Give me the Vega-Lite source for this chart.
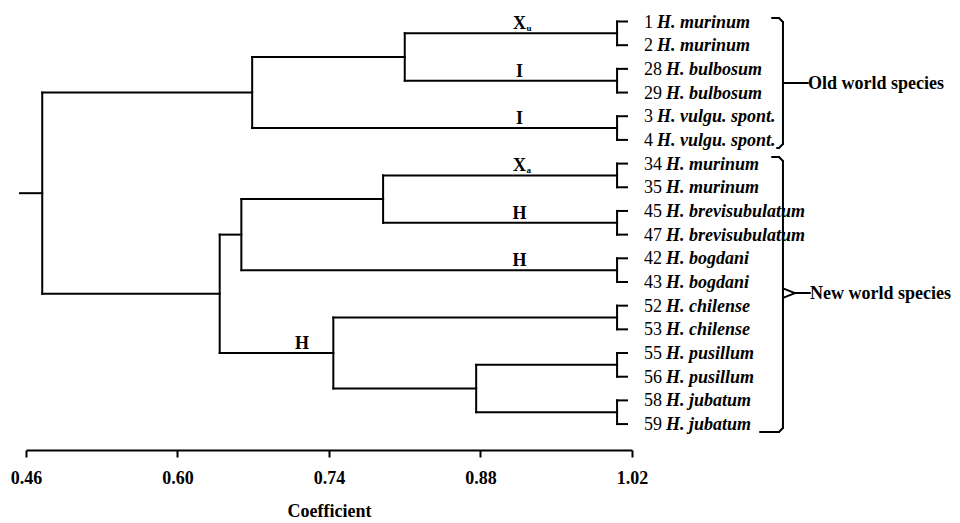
{
  "$schema": "https://vega.github.io/schema/vega-lite/v6.json",
  "width": 606,
  "height": 450,
  "autosize": {"type": "none"},
  "padding": {"left": 26, "top": 0, "right": 328, "bottom": 73},
  "background": "white",
  "config": {
    "view": {"stroke": null},
    "font": "Liberation Serif",
    "axisX": {
      "grid": false,
      "domainColor": "black", "domainWidth": 2,
      "tickColor": "black", "tickWidth": 2, "tickSize": 7,
      "labelFont": "Liberation Serif", "labelFontSize": 18, "labelFontWeight": "bold",
      "labelColor": "black", "labelPadding": 12, "labelFlush": false, "labelOverlap": false,
      "titleFont": "Liberation Serif", "titleFontSize": 18, "titleFontWeight": "bold",
      "titleColor": "black", "titlePadding": 15
    }
  },
  "datasets": {
    "segs": [
      {"x": 0.4545, "x2": 0.475, "y": 8.25, "y2": 8.25},
      {"x": 0.475, "x2": 0.475, "y": 4, "y2": 12.5},
      {"x": 0.475, "x2": 0.669, "y": 4, "y2": 4},
      {"x": 0.475, "x2": 0.639, "y": 12.5, "y2": 12.5},
      {"x": 0.669, "x2": 0.669, "y": 2.5, "y2": 5.5},
      {"x": 0.669, "x2": 0.81, "y": 2.5, "y2": 2.5},
      {"x": 0.669, "x2": 1.0062, "y": 5.5, "y2": 5.5},
      {"x": 0.81, "x2": 0.81, "y": 1.5, "y2": 3.5},
      {"x": 0.81, "x2": 1.0062, "y": 1.5, "y2": 1.5},
      {"x": 0.81, "x2": 1.0062, "y": 3.5, "y2": 3.5},
      {"x": 0.639, "x2": 0.639, "y": 10, "y2": 15},
      {"x": 0.639, "x2": 0.659, "y": 10, "y2": 10},
      {"x": 0.639, "x2": 0.744, "y": 15, "y2": 15},
      {"x": 0.659, "x2": 0.659, "y": 8.5, "y2": 11.5},
      {"x": 0.659, "x2": 0.79, "y": 8.5, "y2": 8.5},
      {"x": 0.659, "x2": 1.0062, "y": 11.5, "y2": 11.5},
      {"x": 0.79, "x2": 0.79, "y": 7.5, "y2": 9.5},
      {"x": 0.79, "x2": 1.0062, "y": 7.5, "y2": 7.5},
      {"x": 0.79, "x2": 1.0062, "y": 9.5, "y2": 9.5},
      {"x": 0.744, "x2": 0.744, "y": 13.5, "y2": 16.5},
      {"x": 0.744, "x2": 1.0062, "y": 13.5, "y2": 13.5},
      {"x": 0.744, "x2": 0.876, "y": 16.5, "y2": 16.5},
      {"x": 0.876, "x2": 0.876, "y": 15.5, "y2": 17.5},
      {"x": 0.876, "x2": 1.0062, "y": 15.5, "y2": 15.5},
      {"x": 0.876, "x2": 1.0062, "y": 17.5, "y2": 17.5},
      {"x": 1.0062, "x2": 1.0062, "y": 1, "y2": 2},
      {"x": 1.0062, "x2": 1.0062, "y": 3, "y2": 4},
      {"x": 1.0062, "x2": 1.0062, "y": 5, "y2": 6},
      {"x": 1.0062, "x2": 1.0062, "y": 7, "y2": 8},
      {"x": 1.0062, "x2": 1.0062, "y": 9, "y2": 10},
      {"x": 1.0062, "x2": 1.0062, "y": 11, "y2": 12},
      {"x": 1.0062, "x2": 1.0062, "y": 13, "y2": 14},
      {"x": 1.0062, "x2": 1.0062, "y": 15, "y2": 16},
      {"x": 1.0062, "x2": 1.0062, "y": 17, "y2": 18}
    ],
    "leaves": [
      {"pos": 1, "num": 1, "name": "H. murinum"},
      {"pos": 2, "num": 2, "name": "H. murinum"},
      {"pos": 3, "num": 28, "name": "H. bulbosum"},
      {"pos": 4, "num": 29, "name": "H. bulbosum"},
      {"pos": 5, "num": 3, "name": "H. vulgu. spont."},
      {"pos": 6, "num": 4, "name": "H. vulgu. spont."},
      {"pos": 7, "num": 34, "name": "H. murinum"},
      {"pos": 8, "num": 35, "name": "H. murinum"},
      {"pos": 9, "num": 45, "name": "H. brevisubulatum"},
      {"pos": 10, "num": 47, "name": "H. brevisubulatum"},
      {"pos": 11, "num": 42, "name": "H. bogdani"},
      {"pos": 12, "num": 43, "name": "H. bogdani"},
      {"pos": 13, "num": 52, "name": "H. chilense"},
      {"pos": 14, "num": 53, "name": "H. chilense"},
      {"pos": 15, "num": 55, "name": "H. pusillum"},
      {"pos": 16, "num": 56, "name": "H. pusillum"},
      {"pos": 17, "num": 58, "name": "H. jubatum"},
      {"pos": 18, "num": 59, "name": "H. jubatum"}
    ],
    "annots": [
      {"genome": "X", "sub": "u", "coef": 0.916, "pos": 1.5},
      {"genome": "I", "sub": "", "coef": 0.916, "pos": 3.5},
      {"genome": "I", "sub": "", "coef": 0.916, "pos": 5.5},
      {"genome": "X", "sub": "a", "coef": 0.916, "pos": 7.5},
      {"genome": "H", "sub": "", "coef": 0.916, "pos": 9.5},
      {"genome": "H", "sub": "", "coef": 0.916, "pos": 11.5},
      {"genome": "H", "sub": "", "coef": 0.715, "pos": 15}
    ],
    "braces": [
      {"x": 1.1494, "x2": 1.1558, "y": 0.852, "y2": 0.852},
      {"x": 1.1558, "x2": 1.1595, "y": 0.852, "y2": 1.021},
      {"x": 1.1595, "x2": 1.1595, "y": 1.021, "y2": 6.173},
      {"x": 1.1595, "x2": 1.1558, "y": 6.173, "y2": 6.342},
      {"x": 1.1558, "x2": 1.154, "y": 6.342, "y2": 6.342},
      {"x": 1.1595, "x2": 1.1826, "y": 3.6, "y2": 3.6},
      {"x": 1.1494, "x2": 1.1558, "y": 6.722, "y2": 6.722},
      {"x": 1.1558, "x2": 1.1595, "y": 6.722, "y2": 6.891},
      {"x": 1.1595, "x2": 1.1595, "y": 6.891, "y2": 18.166},
      {"x": 1.1595, "x2": 1.1706, "y": 12.27, "y2": 12.47},
      {"x": 1.1595, "x2": 1.1706, "y": 12.67, "y2": 12.47},
      {"x": 1.1706, "x2": 1.1845, "y": 12.47, "y2": 12.47},
      {"x": 1.1595, "x2": 1.1558, "y": 18.166, "y2": 18.335},
      {"x": 1.1558, "x2": 1.1383, "y": 18.335, "y2": 18.335}
    ],
    "groups": [
      {"label": "Old world species", "coef": 1.1826, "pos": 3.6},
      {"label": "New world species", "coef": 1.1845, "pos": 12.47}
    ]
  },
  "layer": [
    {
      "data": {"name": "segs"},
      "mark": {"type": "rule", "color": "black", "strokeWidth": 2, "strokeCap": "square"},
      "encoding": {
        "x": {
          "field": "x", "type": "quantitative",
          "scale": {"domain": [0.46, 1.02], "nice": false, "zero": false},
          "axis": {"title": "Coefficient", "values": [0.46, 0.6, 0.74, 0.88, 1.02], "format": ".2f"}
        },
        "x2": {"field": "x2"},
        "y": {
          "field": "y", "type": "quantitative",
          "scale": {"domain": [0.092, 19.095], "reverse": true, "nice": false, "zero": false},
          "axis": null
        },
        "y2": {"field": "y2"}
      }
    },
    {
      "data": {"name": "leaves"},
      "mark": {"type": "rule", "color": "black", "strokeWidth": 2, "strokeCap": "square"},
      "encoding": {
        "x": {"datum": 1.0062, "type": "quantitative", "axis": {"title": "Coefficient", "values": [0.46, 0.6, 0.74, 0.88, 1.02], "format": ".2f"}},
        "x2": {"datum": 1.0154},
        "y": {"field": "pos", "type": "quantitative", "axis": null}
      }
    },
    {
      "data": {"name": "leaves"},
      "mark": {"type": "text", "align": "left", "baseline": "middle", "fontSize": 18, "font": "Liberation Serif", "color": "black", "dy": 1},
      "encoding": {
        "x": {"datum": 1.0311, "type": "quantitative", "axis": {"title": "Coefficient", "values": [0.46, 0.6, 0.74, 0.88, 1.02], "format": ".2f"}},
        "y": {"field": "pos", "type": "quantitative", "axis": null},
        "text": {"field": "num", "type": "nominal"}
      }
    },
    {
      "data": {"name": "leaves"},
      "transform": [{"filter": "datum.num < 10"}],
      "mark": {"type": "text", "align": "left", "baseline": "middle", "fontSize": 18, "font": "Liberation Serif", "fontStyle": "italic", "fontWeight": "bold", "color": "black", "dx": 13, "dy": 1},
      "encoding": {
        "x": {"datum": 1.0311, "type": "quantitative", "axis": {"title": "Coefficient", "values": [0.46, 0.6, 0.74, 0.88, 1.02], "format": ".2f"}},
        "y": {"field": "pos", "type": "quantitative", "axis": null},
        "text": {"field": "name", "type": "nominal"}
      }
    },
    {
      "data": {"name": "leaves"},
      "transform": [{"filter": "datum.num >= 10"}],
      "mark": {"type": "text", "align": "left", "baseline": "middle", "fontSize": 18, "font": "Liberation Serif", "fontStyle": "italic", "fontWeight": "bold", "color": "black", "dx": 22, "dy": 1},
      "encoding": {
        "x": {"datum": 1.0311, "type": "quantitative", "axis": {"title": "Coefficient", "values": [0.46, 0.6, 0.74, 0.88, 1.02], "format": ".2f"}},
        "y": {"field": "pos", "type": "quantitative", "axis": null},
        "text": {"field": "name", "type": "nominal"}
      }
    },
    {
      "data": {"name": "annots"},
      "mark": {"type": "text", "align": "center", "baseline": "alphabetic", "fontSize": 18, "font": "Liberation Serif", "fontWeight": "bold", "color": "black", "dy": -4},
      "encoding": {
        "x": {"field": "coef", "type": "quantitative", "axis": {"title": "Coefficient", "values": [0.46, 0.6, 0.74, 0.88, 1.02], "format": ".2f"}},
        "y": {"field": "pos", "type": "quantitative", "axis": null},
        "text": {"field": "genome", "type": "nominal"}
      }
    },
    {
      "data": {"name": "annots"},
      "mark": {"type": "text", "align": "left", "baseline": "alphabetic", "fontSize": 9, "font": "Liberation Serif", "fontWeight": "bold", "color": "black", "dx": 7, "dy": -2},
      "encoding": {
        "x": {"field": "coef", "type": "quantitative", "axis": {"title": "Coefficient", "values": [0.46, 0.6, 0.74, 0.88, 1.02], "format": ".2f"}},
        "y": {"field": "pos", "type": "quantitative", "axis": null},
        "text": {"field": "sub", "type": "nominal"}
      }
    },
    {
      "data": {"name": "braces"},
      "mark": {"type": "rule", "color": "black", "strokeWidth": 2, "strokeCap": "round"},
      "encoding": {
        "x": {"field": "x", "type": "quantitative", "axis": {"title": "Coefficient", "values": [0.46, 0.6, 0.74, 0.88, 1.02], "format": ".2f"}},
        "x2": {"field": "x2"},
        "y": {"field": "y", "type": "quantitative", "axis": null},
        "y2": {"field": "y2"}
      }
    },
    {
      "data": {"name": "groups"},
      "mark": {"type": "text", "align": "left", "baseline": "middle", "fontSize": 18, "font": "Liberation Serif", "fontWeight": "bold", "color": "black", "dy": 1},
      "encoding": {
        "x": {"field": "coef", "type": "quantitative", "axis": {"title": "Coefficient", "values": [0.46, 0.6, 0.74, 0.88, 1.02], "format": ".2f"}},
        "y": {"field": "pos", "type": "quantitative", "axis": null},
        "text": {"field": "label", "type": "nominal"}
      }
    }
  ]
}
